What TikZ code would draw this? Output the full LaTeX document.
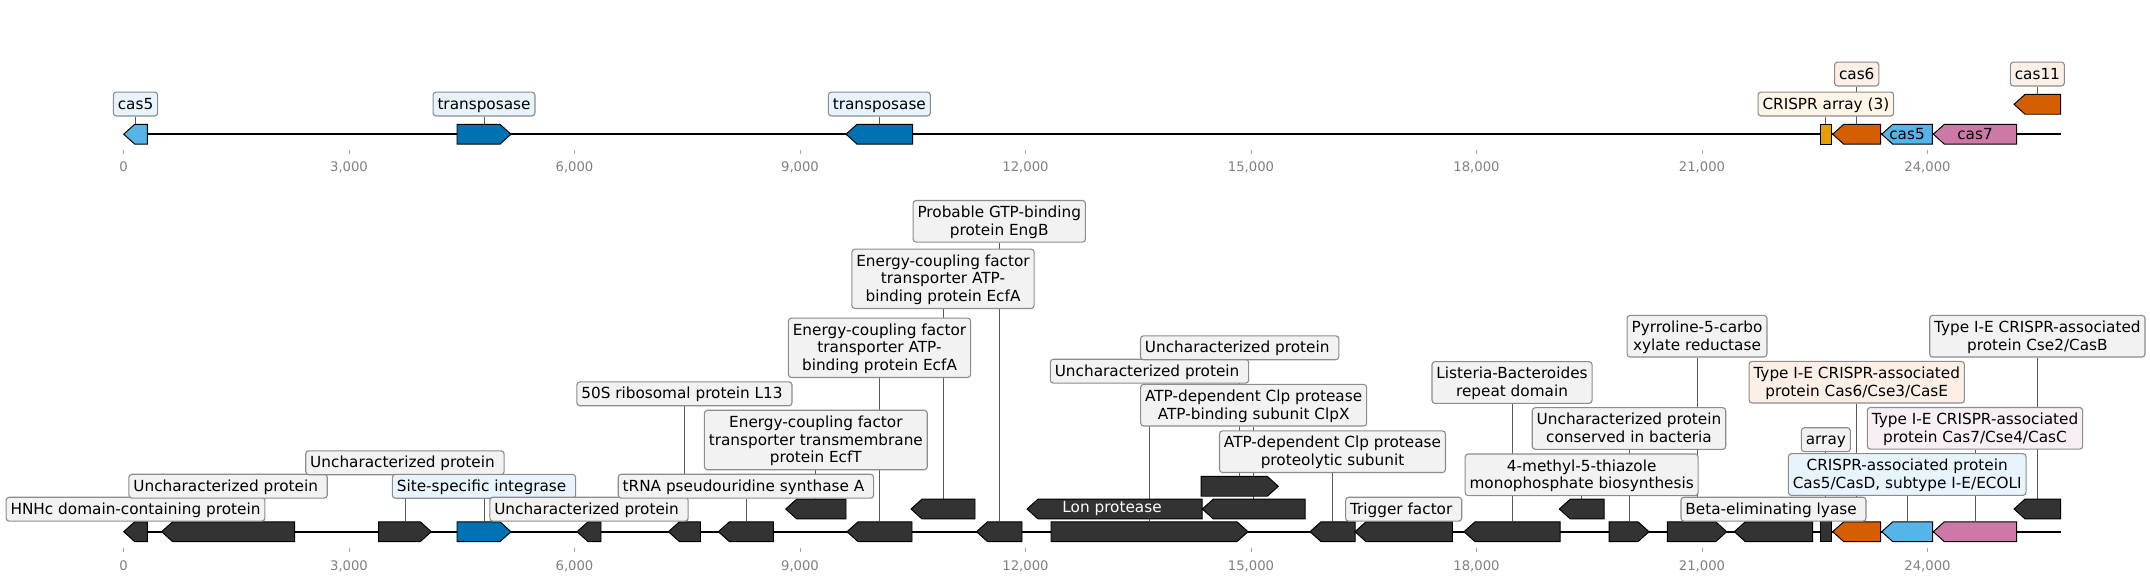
\documentclass[tikz,border=0pt]{standalone}
\usepackage{fontspec}
\setmainfont{DejaVu Sans}
\usepackage{tikz}
\usetikzlibrary{shapes}
\usetikzlibrary{backgrounds}

\definecolor{genegray}{HTML}{333333}
\definecolor{casblue}{HTML}{56B4E9}
\definecolor{tnpblue}{HTML}{0072B2}
\definecolor{casorange}{HTML}{D55E00}
\definecolor{caspink}{HTML}{CC79A7}
\definecolor{arrayyellow}{HTML}{E69F00}
\definecolor{boxgray}{HTML}{F2F2F2}
\definecolor{boxblue}{HTML}{E7F4FB}
\definecolor{boxorange}{HTML}{FBEFE6}
\definecolor{boxpink}{HTML}{F8EFF5}
\definecolor{boxcream}{HTML}{FDF6E6}

\newcommand{\tailsp}{\kern.32em}
\newcommand{\tagstrut}{\rule[-2.7pt]{0pt}{12.8pt}}
\newcommand{\lnbr}{\tagstrut\\\tagstrut}

\begin{document}
\begin{tikzpicture}[
        x = 0.72pt, y = -0.72pt,
        tag/.style = {draw = black!45, fill = boxgray, rounded corners = 2.2pt, line width = 0.8pt,
                      align = center, inner xsep = 3.2pt, inner ysep = 2.2pt,
                      font = \fontsize{11pt}{12.8pt}\selectfont,
                      execute at begin node = \tagstrut},
        gene/.style = {signal, draw = black, line width = 0.7pt, fill = genegray, inner sep = 0pt,
                       minimum height = 14.3pt, signal pointer angle = 84},
        fwd/.style = {gene, signal to = east, xshift = -3.97pt},
        bwd/.style = {gene, signal to = west, xshift = 3.97pt},
        blk/.style = {gene, signal to = nowhere},
        glen/.style = {minimum width = #1*0.72pt},
        intext/.style = {inner sep = 0pt, xshift = -3.97pt, font = \fontsize{11pt}{12.8pt}\selectfont},
        stem/.style = {draw = black!65, line width = 0.6pt},
        track/.style = {draw = black, line width = 1.5pt},
        tickmark/.style = {draw = black!35, line width = 0.6pt},
        ticktext/.style = {text = black!50, font = \fontsize{9.5pt}{11pt}\selectfont, anchor = base},
        ]
    \useasboundingbox (0,0) rectangle (2150,582);

    % upper track
    \coordinate (topstart) at (123.5,134.2);
    \coordinate (topend) at (2060.7,134.2);
    \node[bwd, glen = 23.6, fill = casblue] (a1) at (135.5,134.2) {};
    \node[fwd, glen = 54, fill = tnpblue] (a2) at (484,134.2) {};
    \node[bwd, glen = 66.7, fill = tnpblue] (a3) at (879.35,134.2) {};
    \node[blk, glen = 11.7, fill = arrayyellow] (a4) at (1825.85,134.2) {};
    \node[bwd, glen = 48, fill = casorange] (a5) at (1856.7,134.2) {};
    \node[bwd, glen = 50.6, fill = casblue, label = {[intext]center:cas5}] (a6) at (1907,134.2) {};
    \node[bwd, glen = 83.4, fill = caspink, label = {[intext]center:cas7}] (a7) at (1975,134.2) {};
    \node[bwd, glen = 46.7, fill = casorange] (a8) at (2037.35,104.3) {};

    \node[tag, fill = boxblue] (la1) at (135.5,104) {cas5};
    \node[tag, fill = boxblue] (la2) at (484,104) {transposase};
    \node[tag, fill = boxblue] (la3) at (879.35,104) {transposase};
    \node[tag, fill = boxcream] (la4) at (1825.85,104) {CRISPR array (3)};
    \node[tag, fill = boxorange] (la5) at (1856.7,74) {cas6};
    \node[tag, fill = boxorange] (la8) at (2037.35,74) {cas11};

    % lower track
    \coordinate (botstart) at (123.5,531.7);
    \coordinate (botend) at (2060.7,531.7);
    \node[bwd, glen = 23.6] (b1) at (135.5,531.7) {};
    \node[bwd, glen = 133] (b2) at (228.1,531.7) {};
    \node[fwd, glen = 52.7] (b3) at (404.95,531.7) {};
    \node[fwd, glen = 54, fill = tnpblue] (b4) at (484,531.7) {};
    \node[bwd, glen = 24] (b5) at (589,531.7) {};
    \node[bwd, glen = 32.1] (b6) at (684.45,531.7) {};
    \node[bwd, glen = 55.1] (b7) at (745.95,531.7) {};
    \node[bwd, glen = 60.3] (b8) at (815.85,509) {};
    \node[bwd, glen = 65] (b9) at (879.5,531.7) {};
    \node[bwd, glen = 64] (b10) at (943,509) {};
    \node[bwd, glen = 45.5] (b11) at (999.25,531.7) {};
    \node[bwd, glen = 175, label = {[intext, text = white]center:Lon protease\tailsp}] (b12) at (1114.5,509) {};
    \node[fwd, glen = 197] (b13) at (1149.5,531.7) {};
    \node[fwd, glen = 77.3] (b14) at (1239.65,486.3) {};
    \node[bwd, glen = 102.7] (b15) at (1253.65,509) {};
    \node[bwd, glen = 45] (b16) at (1332.5,531.7) {};
    \node[bwd, glen = 97.3] (b17) at (1403.65,531.7) {};
    \node[bwd, glen = 96] (b18) at (1512,531.7) {};
    \node[bwd, glen = 44.7] (b19) at (1581.65,509) {};
    \node[fwd, glen = 40] (b20) at (1629,531.7) {};
    \node[fwd, glen = 59.4] (b21) at (1697,531.7) {};
    \node[bwd, glen = 78.4] (b22) at (1773.5,531.7) {};
    \node[blk, glen = 11.7] (b23) at (1825.85,531.7) {};
    \node[bwd, glen = 48, fill = casorange] (b24) at (1856.7,531.7) {};
    \node[bwd, glen = 51, fill = casblue] (b25) at (1907.2,531.7) {};
    \node[bwd, glen = 83.4, fill = caspink] (b26) at (1975,531.7) {};
    \node[bwd, glen = 46.7] (b27) at (2037.35,509) {};

    \node[tag] (lb1) at (135.5,509.2) {HNHc domain-containing protein};
    \node[tag] (lb2) at (228.1,486.2) {Uncharacterized protein\tailsp};
    \node[tag] (lb3) at (404.95,462.8) {Uncharacterized protein\tailsp};
    \node[tag, fill = boxblue] (lb4) at (484,486.3) {Site-specific integrase\tailsp};
    \node[tag] (lb5) at (589,509.2) {Uncharacterized protein\tailsp};
    \node[tag] (lb6) at (684.45,393.8) {50S ribosomal protein L13\tailsp};
    \node[tag] (lb7) at (745.95,486.2) {tRNA pseudouridine synthase A\tailsp};
    \node[tag] (lb8) at (815.85,440) {Energy-coupling factor\lnbr transporter transmembrane\lnbr protein EcfT};
    \node[tag] (lb9) at (879.5,347.8) {Energy-coupling factor\lnbr transporter ATP-\lnbr binding protein EcfA};
    \node[tag] (lb10) at (943,278.8) {Energy-coupling factor\lnbr transporter ATP-\lnbr binding protein EcfA};
    \node[tag] (lb11) at (999.25,221.3) {Probable GTP-binding\lnbr protein EngB};
    \node[tag] (lb13) at (1149.5,371.2) {Uncharacterized protein\tailsp};
    \node[tag] (lb14) at (1239.65,347.8) {Uncharacterized protein\tailsp};
    \node[tag] (lb15) at (1253.65,405.2) {ATP-dependent Clp protease\lnbr ATP-binding subunit ClpX};
    \node[tag] (lb16) at (1332.5,451.7) {ATP-dependent Clp protease\lnbr proteolytic subunit};
    \node[tag] (lb17) at (1403.65,509.2) {Trigger factor\tailsp};
    \node[tag] (lb18) at (1512,382.5) {Listeria-Bacteroides\lnbr repeat domain};
    \node[tag] (lb19) at (1581.65,474.8) {4-methyl-5-thiazole\lnbr monophosphate biosynthesis};
    \node[tag] (lb20) at (1629,428.5) {Uncharacterized protein\lnbr conserved in bacteria};
    \node[tag] (lb21) at (1697,336.2) {Pyrroline-5-carbo\lnbr xylate reductase};
    \node[tag] (lb22) at (1773.5,509.2) {Beta-eliminating lyase\tailsp};
    \node[tag] (lb23) at (1825.85,439.7) {array};
    \node[tag, fill = boxorange] (lb24) at (1856.7,382.2) {Type I-E CRISPR-associated\lnbr protein Cas6/Cse3/CasE};
    \node[tag, fill = boxblue] (lb25) at (1907.2,474.5) {CRISPR-associated protein\lnbr Cas5/CasD, subtype I-E/ECOLI};
    \node[tag, fill = boxpink] (lb26) at (1975,428.3) {Type I-E CRISPR-associated\lnbr protein Cas7/Cse4/CasC};
    \node[tag] (lb27) at (2037.35,336.2) {Type I-E CRISPR-associated\lnbr protein Cse2/CasB};

    \begin{scope}[on background layer]
        \draw[track] (topstart) -- (topend);
        \draw[track] (botstart) -- (botend);
        \foreach \g in {1,2,3,4,5,8}
            \draw[stem] (la\g.south) -- (la\g.south |- a\g.north);
        \foreach \g in {1,2,...,11,13,14,...,27}
            \draw[stem] (lb\g.south) -- (lb\g.south |- b\g.north);
    \end{scope}

    % axes
    \foreach \k/\txt in {0/0, 1/{3,000}, 2/{6,000}, 3/{9,000}, 4/{12,000},
                         5/{15,000}, 6/{18,000}, 7/{21,000}, 8/{24,000}} {
        \draw[tickmark] (123.5+225.5*\k,150) -- (123.5+225.5*\k,154);
        \node[ticktext] (ta\k) at (123.5+225.5*\k,171.6) {\txt};
        \draw[tickmark] (123.5+225.5*\k,548) -- (123.5+225.5*\k,552);
        \node[ticktext] (tb\k) at (123.5+225.5*\k,570.5) {\txt};
    }
\end{tikzpicture}
\end{document}
